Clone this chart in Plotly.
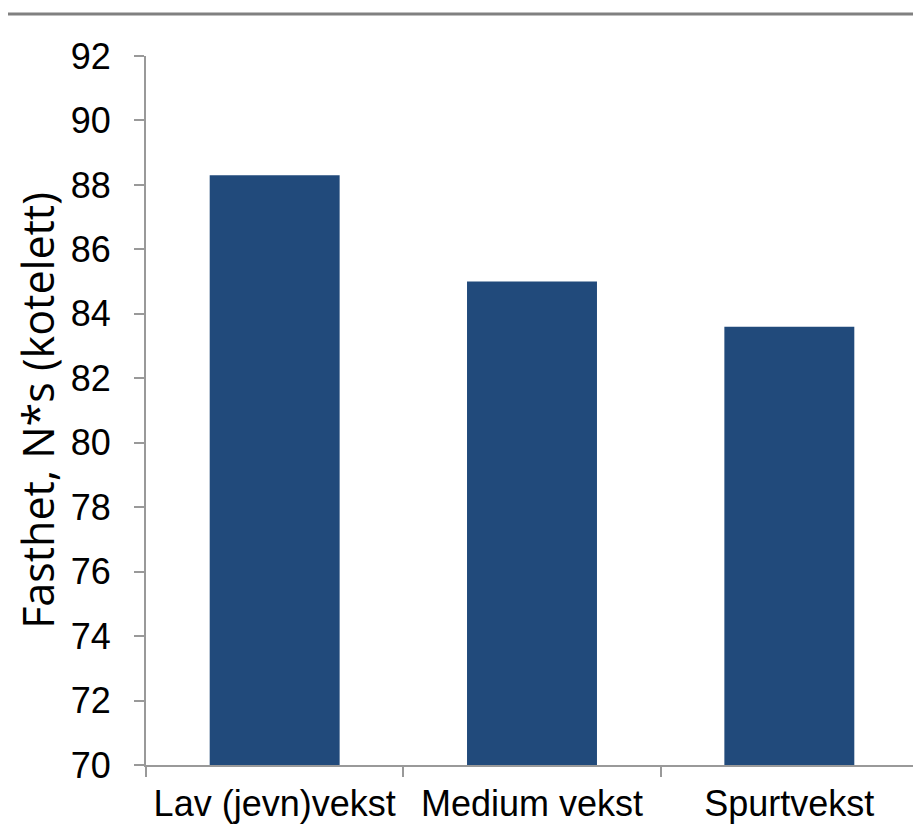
import plotly.graph_objects as go

categories = ["Lav (jevn)vekst", "Medium vekst", "Spurtvekst"]
values = [88.3, 85.0, 83.6]
y_ticks = list(range(70, 93, 2))

# page body has an 8px margin; size figure to fit inside the window
W, H = 913, 820
ml, mr, mt, mb = 138, 3, 48, 63
pw = W - ml - mr
ph = H - mt - mb

fig = go.Figure(go.Bar(x=categories, y=values, marker=dict(color="#214A7B", line=dict(width=0)), width=0.505))

fig.update_layout(
    width=W, height=H,
    margin=dict(l=ml, r=mr, t=mt, b=mb),
    plot_bgcolor="white", paper_bgcolor="white",
    showlegend=False,
    font=dict(family="Liberation Sans, Arial", size=36, color="black"),
)
fig.update_xaxes(
    range=[-0.5, 2.5], showline=True, linecolor="#999999", linewidth=2,
    ticks="outside", tickson="boundaries", ticklen=10, tickcolor="#999999", tickwidth=2,
    showgrid=False, tickfont=dict(size=36), ticklabelstandoff=6,
)
fig.update_yaxes(
    range=[70, 92], tickvals=y_ticks, showline=True, linecolor="#999999", linewidth=2,
    ticks="outside", ticklen=10, tickcolor="#999999", tickwidth=2,
    showgrid=False, zeroline=False, tickfont=dict(size=36), ticklabelstandoff=16,
    title=dict(text="Fasthet, N*s (kotelett)", font=dict(family="Open Sans", size=43), standoff=16),
)
fig.add_shape(type="line", xref="paper", yref="paper",
              x0=-ml / pw, x1=1 + mr / pw, y0=1 + 42 / ph, y1=1 + 42 / ph,
              line=dict(color="#808080", width=3))

fig.write_html("out.html")
